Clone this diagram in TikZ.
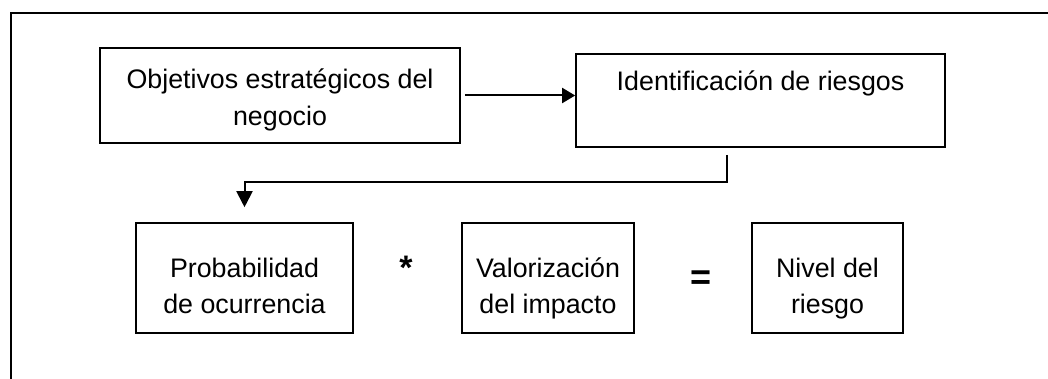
\documentclass[tikz,border=0pt]{standalone}
\usepackage{fontspec}
\setmainfont{Liberation Sans}
\usetikzlibrary{arrows.meta,positioning,calc}
\newcommand{\alto}[1]{\rule{0pt}{#1}}
\newcommand{\hondo}[1]{\rule[-#1]{0pt}{#1}}
\tikzset{
	caja/.style={draw,rectangle,line width=0.8pt,align=center,inner sep=0pt,font=\fontsize{13.4}{17.5}\selectfont},
	marco/.style={color=black,line width=1pt},
	flecha/.style={-{Triangle[width=7.5pt,length=6.5pt]},color=black,line width=1pt},
	flechab/.style={-{Triangle[width=8pt,length=8pt]},color=black,line width=1pt},
	signo/.style={font=\fontsize{13.4}{15.5}\selectfont}
}
\begin{document}
\begin{tikzpicture}[x=0.5pt,y=-0.5pt]
		% pixel grid of the page, y downwards
		\useasboundingbox (0,0) rectangle (1048,379);
		\draw[marco] (1048,13) -| (11,379);
		
		% upper row
		\node[caja,font=\fontsize{13.4}{18.5}\selectfont,minimum width=180pt,minimum height=47.5pt] (obj) at (280,95.5) {\alto{14.5pt}Objetivos estratégicos del\\negocio\hondo{3pt}};
		\node[caja,minimum width=184.5pt,minimum height=46.5pt] (ident) at (760.5,100.5) {Identificación de riesgos\hondo{20pt}};
		\draw[flecha] ([xshift=2pt]obj.east) -- (obj.east -| ident.west);
		
		% lower row
		\node[caja,minimum width=108.5pt,minimum height=55pt] (prob) at (244.5,278) {\alto{20.5pt}Probabilidad\\de ocurrencia\hondo{3pt}};
		\node[caja,minimum width=86pt,minimum height=55pt] (valor) at (548,278) {\alto{20.5pt}Valorización\\del impacto\hondo{3pt}};
		\node[caja,minimum width=75.5pt,minimum height=55pt] (nivel) at (827.5,278) {\alto{20.5pt}Nivel del\\riesgo\hondo{3pt}};
		\node[signo,font=\fontsize{17}{19}\selectfont\bfseries,anchor=base] (por) at (406,279) {*};
		\node[signo,font=\fontsize{18}{19}\selectfont\bfseries] (igual) at (701,280) {=};
		
		\draw[flechab] ([xshift=-17pt,yshift=-3.5pt]ident.south) |- ([yshift=20pt]prob.north) -- ([yshift=7.5pt]prob.north);
		
\end{tikzpicture}
\end{document}
